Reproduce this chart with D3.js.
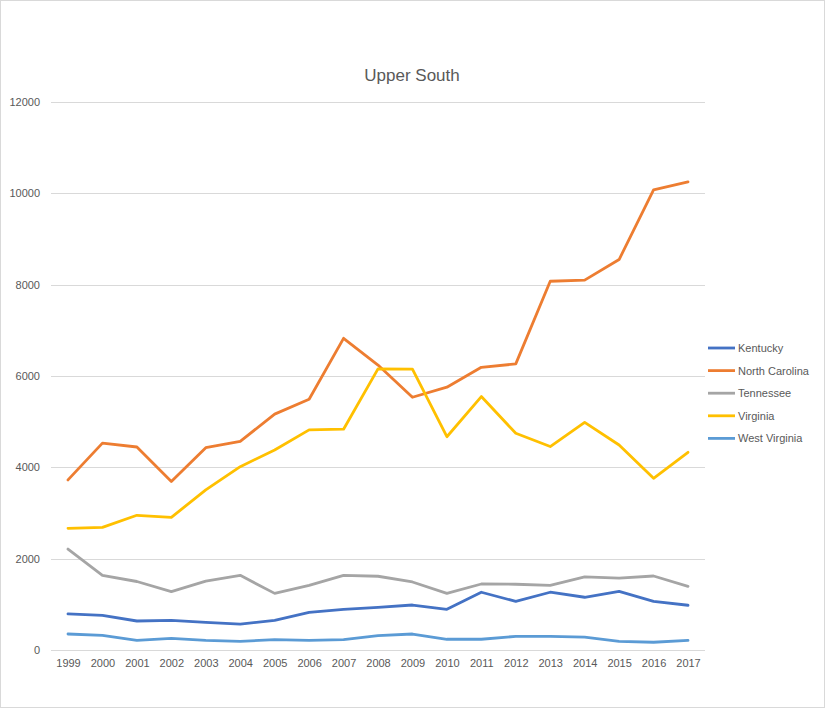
<!DOCTYPE html>
<html>
<head>
<meta charset="utf-8">
<script src="https://cdn.jsdelivr.net/npm/d3@7"></script>
<style>
  body { margin: 0; background: #fff; }
  text { font-family: "Liberation Sans", Arial, sans-serif; fill: #595959; }
</style>
</head>
<body>
<svg width="825" height="708"></svg>
<script>
var years = ["1999", "2000", "2001", "2002", "2003", "2004", "2005", "2006", "2007", "2008",
             "2009", "2010", "2011", "2012", "2013", "2014", "2015", "2016", "2017"];
var states = ["Kentucky", "North Carolina", "Tennessee", "Virginia", "West Virginia"];
var colors = ["#4472C4", "#ED7D31", "#A5A5A5", "#FFC000", "#5B9BD5"];
var yTicks = [0, 2000, 4000, 6000, 8000, 10000, 12000];

var kentucky      = [790, 760, 635, 650, 605, 565, 650, 825, 890, 935, 985, 890, 1265, 1065, 1265, 1155, 1285, 1065, 980];
var northCarolina = [3725, 4530, 4445, 3690, 4430, 4570, 5165, 5490, 6825, 6240, 5535, 5755, 6190, 6265, 8075, 8100, 8550, 10075, 10250];
var tennessee     = [2210, 1635, 1500, 1280, 1510, 1635, 1240, 1415, 1635, 1615, 1490, 1240, 1445, 1440, 1415, 1600, 1575, 1620, 1395];
var virginia      = [2665, 2685, 2950, 2905, 3505, 4015, 4380, 4820, 4835, 6155, 6150, 4670, 5550, 4745, 4455, 4985, 4490, 3760, 4330];
var westVirginia  = [350, 320, 210, 255, 210, 190, 225, 210, 225, 315, 350, 235, 235, 300, 300, 280, 190, 170, 210];

var seriesValues = [kentucky, northCarolina, tennessee, virginia, westVirginia];

var margin = {top: 102, right: 120, bottom: 58, left: 51};
var width = 825, height = 708;

var svg = d3.select("svg");

svg.append("rect")
    .attr("x", 0.5).attr("y", 0.5)
    .attr("width", width - 1).attr("height", height - 1)
    .attr("fill", "#fff").attr("stroke", "#d9d9d9");

var xScale = d3.scalePoint()
    .domain(years)
    .range([68, 688]);

var yScale = d3.scaleLinear()
    .domain([0, 12000])
    .range([650, 102]);

// gridlines
svg.append("g")
    .selectAll("line")
    .data(yTicks)
    .enter().append("line")
    .attr("x1", margin.left)
    .attr("x2", 705)
    .attr("y1", function(d) { return Math.round(yScale(d)) + 0.5; })
    .attr("y2", function(d) { return Math.round(yScale(d)) + 0.5; })
    .attr("stroke", "#d9d9d9")
    .attr("stroke-width", 1);

// y labels
var yAxis = d3.axisLeft(yScale).tickValues(yTicks).tickSize(0).tickPadding(0).tickFormat(d3.format("d"));
svg.append("g")
    .attr("class", "y axis")
    .attr("transform", "translate(40,0)")
    .call(yAxis)
    .call(function(g) { g.select(".domain").remove(); })
    .selectAll("text")
    .style("font-size", "11px")
    .attr("fill", "#595959");

// x labels
var xAxis = d3.axisBottom(xScale).tickSize(0).tickPadding(0);
svg.append("g")
    .attr("class", "x axis")
    .attr("transform", "translate(0,659)")
    .call(xAxis)
    .call(function(g) { g.select(".domain").remove(); })
    .selectAll("text")
    .style("font-size", "11px")
    .attr("fill", "#595959");

var line = d3.line()
    .x(function(d, i) { return xScale(years[i]); })
    .y(function(d) { return yScale(d); });

svg.append("g")
    .selectAll("path")
    .data(seriesValues)
    .enter().append("path")
    .attr("d", line)
    .attr("fill", "none")
    .attr("stroke", function(d, i) { return colors[i]; })
    .attr("stroke-width", 2.8)
    .attr("stroke-linejoin", "round")
    .attr("stroke-linecap", "round");

// title
svg.append("text")
    .attr("x", 412)
    .attr("y", 81)
    .attr("text-anchor", "middle")
    .style("font-size", "17px")
    .text("Upper South");

// legend
var legend = svg.append("g")
    .selectAll("g")
    .data(states)
    .enter().append("g")
    .attr("transform", function(d, i) { return "translate(708," + (348 + i * 22.6) + ")"; });

legend.append("line")
    .attr("x1", 0).attr("x2", 27)
    .attr("y1", 0).attr("y2", 0)
    .attr("stroke", function(d, i) { return colors[i]; })
    .attr("stroke-width", 2.8);

legend.append("text")
    .attr("x", 30)
    .attr("y", 4)
    .style("font-size", "11px")
    .text(function(d) { return d; });
</script>
</body>
</html>
